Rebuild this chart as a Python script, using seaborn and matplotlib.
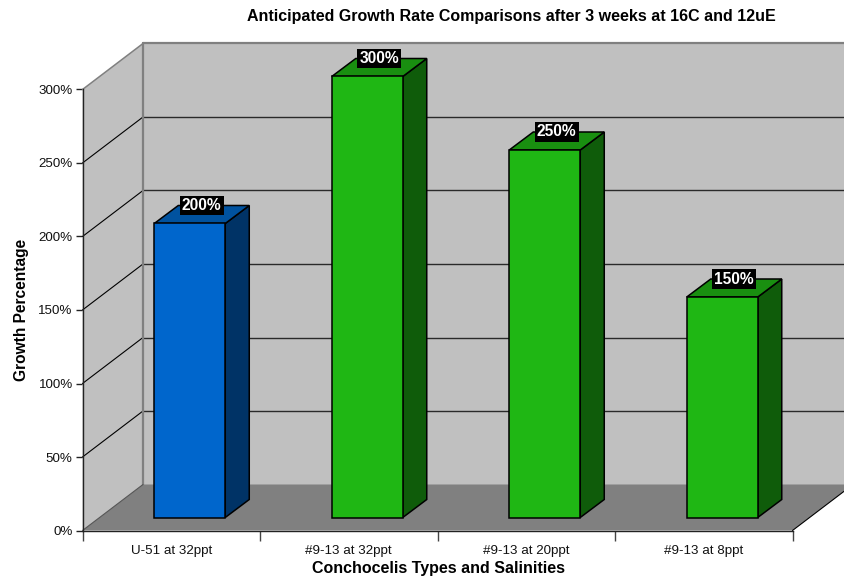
import matplotlib
matplotlib.use("Agg")
import matplotlib.pyplot as plt
from matplotlib.patches import Polygon
from matplotlib.transforms import Affine2D, IdentityTransform
import pandas as pd
import seaborn as sns

categories = ["U-51 at 32ppt", "#9-13 at 32ppt", "#9-13 at 20ppt", "#9-13 at 8ppt"]
growth = [200, 300, 250, 150]
front_colors = ["#0066CC", "#1FB714", "#1FB714", "#1FB714"]
side_colors = ["#003366", "#0F5C0A", "#0F5C0A", "#0F5C0A"]
top_colors = ["#00529F", "#198F10", "#198F10", "#198F10"]
y_ticks = [0, 50, 100, 150, 200, 250, 300]
y_tick_labels = ["0%", "50%", "100%", "150%", "200%", "250%", "300%"]

title = "Anticipated Growth Rate Comparisons after 3 weeks at 16C and 12uE"
x_title = "Conchocelis Types and Salinities"
y_title = "Growth Percentage"

W, H = 844, 578
sns.set_theme(style="white")
plt.rcParams["font.family"] = ["Liberation Sans", "DejaVu Sans"]

fig = plt.figure(figsize=(W / 100, H / 100), dpi=100)
ax = fig.add_axes([82.5 / W, (H - 530.5) / H, 710 / W, 441 / H])
ax.patch.set_visible(False)

df = pd.DataFrame({"category": categories, "growth": growth})
sns.barplot(data=df, x="category", y="growth", hue="category", palette=front_colors,
            order=categories, hue_order=categories, dodge=False, width=0.4, saturation=1,
            edgecolor="black", linewidth=1.1, legend=False, zorder=6, ax=ax)
ax.set_xlim(-0.5, 3.5)
ax.set_ylim(0, 300)
fig.canvas.draw()


def offset_transform(dx, dy):
    return ax.transData + Affine2D().translate(dx, dy)


# Pixel offsets of the oblique depth: whole floor, bar position, bar thickness
WALL_DX, WALL_DY = 60.5, 46
BAR_DX, BAR_DY = 18.5, 13
THICK_DX, THICK_DY = 24, 18
x0, x1 = ax.get_xlim()
top = y_ticks[-1]

# Front faces of the bars sit part-way back on the floor
bar_shift = offset_transform(BAR_DX, BAR_DY)
for patch in list(ax.patches):
    patch.set_transform(bar_shift)
    patch.set_clip_on(False)


def oblique(points, color, zorder, edge="none", lw=0):
    """Fill a polygon given as data points, each with its own pixel offset."""
    verts = []
    for x, y, dx, dy in points:
        px, py = ax.transData.transform((x, y))
        verts.append((px + dx, py + dy))
    poly = Polygon(verts, closed=True, facecolor=color, edgecolor=edge, linewidth=lw,
                   transform=IdentityTransform(), zorder=zorder, clip_on=False)
    ax.add_artist(poly)
    poly.set_clip_on(False)
    return poly


def diagonal(x, y, color, zorder, lw):
    """Line running from the front plane back to the wall."""
    ax.plot([0, WALL_DX], [0, WALL_DY], color=color, lw=lw, zorder=zorder, clip_on=False,
            transform=Affine2D().translate(*ax.transData.transform((x, y))))


# Back wall, left wall and floor
oblique([(x0, 0, WALL_DX, WALL_DY), (x1, 0, WALL_DX, WALL_DY),
         (x1, top, WALL_DX, WALL_DY), (x0, top, WALL_DX, WALL_DY)], "#C0C0C0", 1)
oblique([(x0, 0, 0, 0), (x0, 0, WALL_DX, WALL_DY),
         (x0, top, WALL_DX, WALL_DY), (x0, top, 0, 0)], "#C0C0C0", 1)
oblique([(x0, 0, 0, 0), (x1, 0, 0, 0),
         (x1, 0, WALL_DX, WALL_DY), (x0, 0, WALL_DX, WALL_DY)], "#808080", 1)

wall = offset_transform(WALL_DX, WALL_DY)

# Gridlines across the back wall and up the left wall
for t in y_ticks[1:-1]:
    ax.plot([x0, x1], [t, t], color="#2A2A2A", lw=1.0, transform=wall, clip_on=False, zorder=2)
    diagonal(x0, t, "black", 2, 0.8)

# Wall frame
ax.plot([x0, x1], [top, top], color="#808080", lw=1.6, transform=wall, clip_on=False, zorder=3)
ax.plot([x0, x0], [0, top], color="#808080", lw=1.6, transform=wall, clip_on=False, zorder=3)
diagonal(x0, top, "#808080", 3, 1.1)
diagonal(x0, 0, "#555555", 3, 0.8)
diagonal(x1, 0, "black", 3, 0.8)

# Sides and tops of the bars follow the same values as the front faces
half = 0.2
for i, v in enumerate(growth):
    left, right = i - half, i + half
    oblique([(right, 0, BAR_DX, BAR_DY),
             (right, 0, BAR_DX + THICK_DX, BAR_DY + THICK_DY),
             (right, v, BAR_DX + THICK_DX, BAR_DY + THICK_DY),
             (right, v, BAR_DX, BAR_DY)], side_colors[i], 5, edge="black", lw=1.1)
    oblique([(left, v, BAR_DX, BAR_DY), (right, v, BAR_DX, BAR_DY),
             (right, v, BAR_DX + THICK_DX, BAR_DY + THICK_DY),
             (left, v, BAR_DX + THICK_DX, BAR_DY + THICK_DY)], top_colors[i], 5, edge="black", lw=1.1)
    ax.text(i, v, f"{v}%", transform=offset_transform(BAR_DX + THICK_DX / 2, BAR_DY + THICK_DY),
            ha="center", va="center", color="white", fontsize=11.2, fontweight="bold",
            bbox=dict(facecolor="black", edgecolor="none", pad=1.6), zorder=8, clip_on=False)

# Axes, ticks and labels
sns.despine(ax=ax, top=True, right=True)
for side in ("left", "bottom"):
    ax.spines[side].set_color("#222222")
    ax.spines[side].set_linewidth(1.0)
    ax.spines[side].set_zorder(7)
ax.set_yticks(y_ticks)
ax.set_yticklabels(y_tick_labels)
ax.set_xticks([-0.5, 0.5, 1.5, 2.5, 3.5])
ax.set_xticklabels([])
ax.set_xticks([0, 1, 2, 3], labels=categories, minor=True)
ax.tick_params(axis="y", which="major", direction="out", length=5, width=1, color="#222222",
               labelsize=9.6, pad=2, left=True, labelcolor="#111111")
ax.tick_params(axis="x", which="major", direction="out", length=7, width=1, color="#444444", bottom=True)
ax.tick_params(axis="x", which="minor", length=0, labelsize=9.6, pad=10.7, labelcolor="#111111")
ax.set_xlabel("")
ax.set_ylabel("")

fig.text(511 / W, 1 - 16.5 / H, title, ha="center", va="center", fontsize=11.5, fontweight="bold", color="black")
fig.text(438 / W, 1 - 568 / H, x_title, ha="center", va="center", fontsize=11.5, fontweight="bold", color="black")
fig.text(22 / W, 1 - 310 / H, y_title, ha="center", va="center", rotation=90, fontsize=11.2,
         fontweight="bold", color="black")

fig.savefig("out.png", dpi=100, facecolor="white")
